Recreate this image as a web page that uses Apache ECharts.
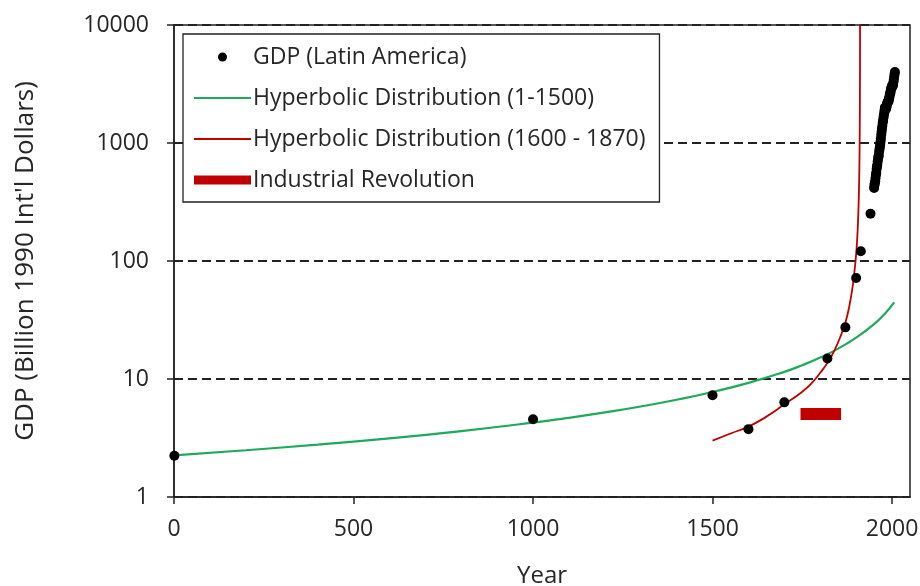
<!DOCTYPE html>
<html>
<head>
<meta charset="utf-8">
<script src="https://cdn.jsdelivr.net/npm/echarts@6/dist/echarts.min.js"></script>
<style>
	html, body { margin: 0; padding: 0; background: #fff; }
	#chart { width: 920px; height: 586px; }
</style>
</head>
<body>
<div id="chart"></div>
<script>
// GDP (Latin America), billion 1990 Int'l dollars
var gdpYears = [1, 1000, 1500, 1600, 1700, 1820, 1870, 1900, 1913, 1940,
	1950, 1951, 1952, 1953, 1954, 1955, 1956, 1957, 1958, 1959,
	1960, 1961, 1962, 1963, 1964, 1965, 1966, 1967, 1968, 1969,
	1970, 1971, 1972, 1973, 1974, 1975, 1976, 1977, 1978, 1979,
	1980, 1981, 1982, 1983, 1984, 1985, 1986, 1987, 1988, 1989,
	1990, 1991, 1992, 1993, 1994, 1995, 1996, 1997, 1998, 1999,
	2000, 2001, 2002, 2003, 2004, 2005, 2006, 2007, 2008];
var gdpValues = [2.24, 4.56, 7.29, 3.76, 6.34, 14.9, 27.4, 71.8, 121, 252,
	416, 440, 455, 474, 506, 538, 560, 601, 632, 650,
	697, 735, 765, 785, 840, 882, 925, 963, 1025, 1094,
	1182, 1253, 1328, 1397, 1490, 1541, 1626, 1708, 1779, 1884,
	1990, 2000, 1980, 1930, 2000, 2060, 2140, 2200, 2220, 2250,
	2250, 2330, 2400, 2490, 2610, 2630, 2720, 2860, 2920, 2930,
	3050, 3070, 3060, 3120, 3300, 3450, 3640, 3840, 3990];

// Hyperbolic fit to years 1-1500 (green)
var hyp1Years = [0, 200, 400, 600, 800, 1000, 1100, 1200, 1300, 1400, 1500,
	1600, 1700, 1750, 1800, 1850, 1900, 1950, 1980, 2006];
var hyp1Values = [2.25, 2.49, 2.78, 3.14, 3.62, 4.27, 4.69, 5.21, 5.85, 6.67, 7.76,
	9.27, 11.5, 13.1, 15.2, 18.1, 22.4, 29.2, 35.8, 44.6];

// Hyperbolic fit to years 1600-1870 (red)
var hyp2Years = [1500, 1550, 1600, 1650, 1700, 1750, 1780, 1800, 1820, 1840,
	1860, 1870, 1880, 1890, 1895, 1900, 1903, 1905, 1907, 1908,
	1909, 1910, 1910.5, 1910.8, 1910.9];
var hyp2Values = [3.0, 3.45, 3.95, 4.8, 6.1, 7.8, 9.5, 11.3, 13.7, 17.6,
	24.5, 30, 40, 60, 80, 114, 156, 208, 313, 417,
	625, 1250, 2500, 6250, 12500];

// Industrial Revolution band
var indYears = [1745, 1858];
var indValues = [5.05, 5.05];

var xTicks = [0, 500, 1000, 1500, 2000];

function pairs(xs, ys) {
	var out = [];
	for (var i = 0; i < xs.length; i++) {
		out.push([xs[i], ys[i]]);
	}
	return out;
}

function plain(v) {
	return String(Math.round(v));
}

var font = '"Open Sans", "Noto Sans", sans-serif';
var ink = '#262626';
var lineIcon = 'path://M0,0H60V2H0Z';

var myChart = echarts.init(document.getElementById('chart'));
var option = {
	animation : false,
	backgroundColor : '#fff',
	textStyle : {
		fontFamily : font,
		color : ink
	},
	grid : {
		left : 174,
		right : 10,
		top : 25,
		bottom : 89,
		containLabel : false,
		outerBoundsMode : 'none',
		show : true,
		borderColor : '#222',
		borderWidth : 1.5
	},
	legend : {
		orient : 'vertical',
		left : 183,
		top : 34,
		padding : [ 10, 14, 9, 11 ],
		backgroundColor : '#fff',
		borderColor : '#222',
		borderWidth : 1.3,
		itemWidth : 57,
		itemHeight : 9,
		itemGap : 15,
		textStyle : {
			fontFamily : font,
			fontSize : 23,
			lineHeight : 26,
			color : ink,
			padding : [ 0, 0, 0, -3 ]
		},
		data : [ {
			name : 'GDP (Latin America)',
			icon : 'circle',
			itemStyle : { opacity : 1 }
		}, {
			name : 'Hyperbolic Distribution (1-1500)',
			icon : lineIcon,
			itemStyle : { borderWidth : 0 }
		}, {
			name : 'Hyperbolic Distribution (1600 - 1870)',
			icon : lineIcon,
			itemStyle : { borderWidth : 0 }
		}, {
			name : 'Industrial Revolution',
			icon : 'rect',
			itemStyle : { borderWidth : 0 }
		} ]
	},
	xAxis : {
		type : 'value',
		min : 0,
		max : 2050,
		name : 'Year',
		nameLocation : 'middle',
		nameGap : 67,
		nameTextStyle : { fontSize : 24, color : ink },
		axisLine : { lineStyle : { color : '#222', width : 1.5 } },
		axisTick : {
			length : 7,
			customValues : xTicks,
			lineStyle : { color : '#222', width : 1.5 }
		},
		axisLabel : {
			customValues : xTicks,
			fontSize : 23,
			color : ink,
			margin : 21,
			formatter : plain
		},
		splitLine : { show : false }
	},
	yAxis : {
		type : 'log',
		logBase : 10,
		min : 1,
		max : 10000,
		name : "GDP (Billion 1990 Int'l Dollars)",
		nameLocation : 'middle',
		nameGap : 135,
		nameTextStyle : { fontSize : 26, color : ink },
		axisLine : { show : true, lineStyle : { color : '#222', width : 1.5 } },
		axisTick : { length : 7, lineStyle : { color : '#222', width : 1.5 } },
		axisLabel : {
			fontSize : 23,
			color : ink,
			margin : 25,
			formatter : plain
		},
		splitLine : {
			show : true,
			lineStyle : { color : '#222', width : 1.8, type : [ 9, 5 ] }
		},
		minorTick : { show : false }
	},
	series : [ {
		name : 'Hyperbolic Distribution (1-1500)',
		type : 'line',
		data : pairs(hyp1Years, hyp1Values),
		smooth : true,
		symbol : 'none',
		color : '#1DAA5A',
		lineStyle : { width : 2.2 },
		z : 2
	}, {
		name : 'Hyperbolic Distribution (1600 - 1870)',
		type : 'line',
		data : pairs(hyp2Years, hyp2Values),
		smooth : true,
		symbol : 'none',
		color : '#C00000',
		lineStyle : { width : 1.8 },
		z : 2
	}, {
		name : 'Industrial Revolution',
		type : 'line',
		data : pairs(indYears, indValues),
		symbol : 'none',
		color : '#C00000',
		lineStyle : { width : 12, cap : 'butt' },
		z : 2
	}, {
		name : 'GDP (Latin America)',
		type : 'scatter',
		data : pairs(gdpYears, gdpValues),
		symbolSize : 10,
		color : '#000',
		itemStyle : { opacity : 1 },
		z : 3
	} ]
};
myChart.setOption(option);
</script>
</body>
</html>
